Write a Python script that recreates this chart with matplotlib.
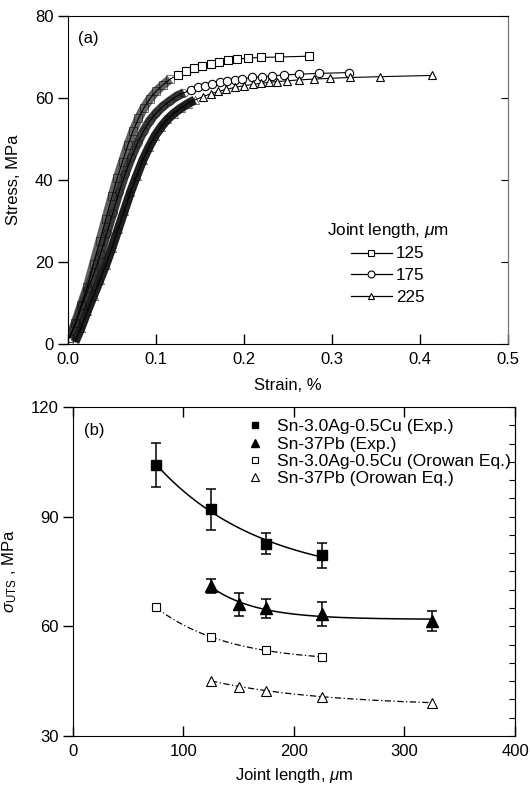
import numpy as np
import matplotlib
matplotlib.use("Agg")
import matplotlib.pyplot as plt
from matplotlib.lines import Line2D

plt.rcParams['font.family'] = ['Liberation Sans', 'DejaVu Sans']
plt.rcParams['mathtext.fontset'] = 'custom'
plt.rcParams['mathtext.rm'] = 'Liberation Sans'
plt.rcParams['mathtext.it'] = 'Liberation Sans:italic'
plt.rcParams['font.size'] = 12

# ---- (a) stress-strain curves, joint length 125 / 175 / 225 um
strain_125 = [0.0015, 0.008, 0.015, 0.022, 0.029, 0.036, 0.043, 0.050, 0.056, 0.062,
              0.068, 0.074, 0.080, 0.086, 0.093, 0.100, 0.108, 0.116, 0.125, 0.134,
              0.143, 0.152, 0.162, 0.172, 0.182, 0.192, 0.204, 0.219, 0.240, 0.274]
stress_125 = [1.5, 5.0, 9.5, 14.0, 19.5, 25.0, 30.5, 36.0, 40.5, 44.5,
              48.5, 52.0, 55.0, 57.5, 59.8, 61.6, 63.2, 64.6, 65.7, 66.6,
              67.3, 67.9, 68.4, 68.9, 69.3, 69.5, 69.7, 69.9, 70.0, 70.2]

strain_175 = [0.002, 0.009, 0.016, 0.023, 0.030, 0.037, 0.044, 0.051, 0.058, 0.065,
              0.072, 0.079, 0.086, 0.093, 0.100, 0.108, 0.116, 0.124, 0.132, 0.140,
              0.148, 0.156, 0.164, 0.173, 0.181, 0.190, 0.198, 0.209, 0.221, 0.232,
              0.245, 0.262, 0.285, 0.319]
stress_175 = [1.5, 5.0, 9.5, 13.5, 17.5, 22.0, 27.0, 32.0, 37.0, 41.5,
              45.5, 49.0, 52.0, 54.5, 56.3, 58.0, 59.3, 60.5, 61.3, 62.0,
              62.6, 63.0, 63.4, 63.8, 64.1, 64.4, 64.7, 65.0, 65.2, 65.4,
              65.6, 65.8, 66.0, 66.2]

strain_225 = [0.008, 0.015, 0.022, 0.029, 0.036, 0.043, 0.050, 0.057, 0.064, 0.071,
              0.078, 0.085, 0.092, 0.099, 0.106, 0.113, 0.120, 0.128, 0.136, 0.144,
              0.153, 0.162, 0.171, 0.180, 0.190, 0.200, 0.210, 0.219, 0.228, 0.238,
              0.249, 0.262, 0.279, 0.298, 0.321, 0.355, 0.414]
stress_225 = [0.5, 4.0, 8.0, 11.8, 15.5, 19.3, 23.5, 28.0, 32.5, 37.0,
              41.0, 44.8, 48.0, 50.8, 53.0, 54.8, 56.2, 57.5, 58.6, 59.5,
              60.3, 61.0, 61.6, 62.1, 62.6, 63.0, 63.3, 63.6, 63.8, 64.0,
              64.2, 64.4, 64.6, 64.8, 65.0, 65.2, 65.5]

# ---- (b) UTS vs joint length
jl_sac = [75, 125, 175, 225]
sac_exp = [104.2, 92.0, 82.6, 79.4]
sac_err = [6.0, 5.7, 2.8, 3.5]
sac_orowan = [65.2, 57.0, 53.5, 51.6]

jl_pb = [125, 150, 175, 225, 325]
pb_exp = [71.0, 66.0, 64.9, 63.3, 61.5]
pb_err = [1.9, 3.2, 2.5, 3.3, 2.7]
pb_orowan = [45.1, 43.5, 42.4, 40.8, 39.1]


def decay_fit(x, y):
    # y = a + b*exp(-x/t), t found by a simple scan
    x = np.asarray(x, float)
    y = np.asarray(y, float)
    best = None
    for t in np.linspace(10, 1500, 3000):
        A = np.column_stack([np.ones_like(x), np.exp(-x / t)])
        coef = np.linalg.lstsq(A, y, rcond=None)[0]
        err = np.sum((A @ coef - y) ** 2)
        if best is None or err < best[0]:
            best = (err, t, coef)
    xs = np.linspace(x.min(), x.max(), 200)
    return xs, best[2][0] + best[2][1] * np.exp(-xs / best[1])


fig = plt.figure(figsize=(5.3, 7.88), dpi=100)
ax1 = fig.add_axes([0.1283, 0.5635, 0.8302, 0.4162])
ax2 = fig.add_axes([0.1377, 0.0660, 0.8340, 0.4175])

curves = [
    (strain_125, stress_125, 's', '125', 0.12, '0.38'),
    (strain_175, stress_175, 'o', '175', 0.14, '0.22'),
    (strain_225, stress_225, '^', '225', 0.15, '0.12'),
]
handles = []
for sx, sy, m, lab, cut, bandc in curves:
    sx = np.array(sx)
    sy = np.array(sy)
    dense = sx < cut
    ax1.plot(sx[dense], sy[dense], color=bandc, lw=6.5, solid_capstyle='butt', zorder=2)
    ax1.plot(sx, sy, color='k', lw=0.8, zorder=3)
    ax1.plot(sx[dense], sy[dense], ls='none', marker=m, ms=5.5, mfc='none',
             mec='0.05', mew=0.4, zorder=4)
    ax1.plot(sx[~dense], sy[~dense], ls='none', marker=m, ms=6, mfc='white',
             mec='k', mew=0.8, zorder=4)
    handles.append(Line2D([], [], color='k', lw=0.9, marker=m, ms=5, mfc='white',
                          mec='k', mew=0.8, label=lab))

ax1.set_xlim(0, 0.5)
ax1.set_ylim(0, 80)
ax1.set_xticks([0.0, 0.1, 0.2, 0.3, 0.4, 0.5])
ax1.set_xticklabels(['0.0', '0.1', '0.2', '0.3', '0.4', '0.5'])
ax1.set_yticks([0, 20, 40, 60, 80])
ax1.set_xlabel('Strain, %', labelpad=8)
ax1.set_ylabel('Stress, MPa', labelpad=10)
ax1.tick_params(axis='x', direction='in', length=7, width=1, pad=6)
ax1.tick_params(axis='y', direction='out', length=7, width=1, left=True)
ax1.text(0.022, 0.955, '(a)', transform=ax1.transAxes, ha='left', va='top', fontsize=12)
leg = ax1.legend(handles=handles, title=r'Joint length, $\mu$m', loc='upper left',
                 bbox_to_anchor=(0.569, 0.402), frameon=False, borderpad=0,
                 handlelength=2.4, handletextpad=0.25, labelspacing=0.4,
                 fontsize=12.3, title_fontsize=12.3)
leg._legend_box.align = 'center'
# inward ticks on the right spine
ax1r = ax1.secondary_yaxis('right')
ax1r.set_yticks([0, 20, 40, 60, 80])
ax1r.tick_params(direction='in', length=5, labelright=False)
ax1r.spines['right'].set_color('0.45')
ax1.spines['right'].set_color('0.45')

# ---- (b)
xs, ys = decay_fit(jl_sac, sac_exp)
ax2.plot(xs, ys, color='k', lw=1.1)
xs, ys = decay_fit(jl_pb, pb_exp)
ax2.plot(xs, ys, color='k', lw=1.1)
xs, ys = decay_fit(jl_sac, sac_orowan)
ax2.plot(xs, ys, color='k', lw=0.9, dashes=(5, 2, 1, 2))
xs, ys = decay_fit(jl_pb, pb_orowan)
ax2.plot(xs, ys, color='k', lw=0.9, dashes=(5, 2, 1, 2))

ax2.errorbar(jl_sac, sac_exp, yerr=sac_err, fmt='none', ecolor='k', elinewidth=1.1,
             capsize=3.5, capthick=1.1)
ax2.errorbar(jl_pb, pb_exp, yerr=pb_err, fmt='none', ecolor='k', elinewidth=1.1,
             capsize=3.5, capthick=1.1)
h1, = ax2.plot(jl_sac, sac_exp, 's', color='k', ms=7, label='Sn-3.0Ag-0.5Cu (Exp.)', zorder=5)
h2, = ax2.plot(jl_pb, pb_exp, '^', color='k', ms=8, label='Sn-37Pb (Exp.)', zorder=5)
h3, = ax2.plot(jl_sac, sac_orowan, 's', mfc='white', mec='k', mew=0.8, ms=5.5,
               label='Sn-3.0Ag-0.5Cu (Orowan Eq.)', zorder=5)
h4, = ax2.plot(jl_pb, pb_orowan, '^', mfc='white', mec='k', mew=0.8, ms=6.5,
               label='Sn-37Pb (Orowan Eq.)', zorder=5)

leg_h = [Line2D([], [], ls='none', marker='s', color='k', ms=5),
         Line2D([], [], ls='none', marker='^', color='k', ms=6),
         Line2D([], [], ls='none', marker='s', mfc='white', mec='k', mew=0.8, ms=4.5),
         Line2D([], [], ls='none', marker='^', mfc='white', mec='k', mew=0.8, ms=5.5)]
ax2.legend(leg_h, [h1.get_label(), h2.get_label(), h3.get_label(), h4.get_label()],
           loc='upper left', bbox_to_anchor=(0.373, 0.99), frameon=False, borderpad=0,
           handlelength=1.0, handletextpad=0.75, labelspacing=0.12, fontsize=12.6)

ax2.set_xlim(0, 400)
ax2.set_ylim(30, 120)
ax2.set_xticks([0, 100, 200, 300, 400])
ax2.set_yticks([30, 60, 90, 120])
ax2.set_xlabel(r'Joint length, $\mu$m', labelpad=5)
ax2.set_ylabel(r'$\sigma_{\rm UTS}$ , MPa', labelpad=8)
ax2.tick_params(axis='x', direction='in', length=7, width=1, top=True, pad=6)
ax2.tick_params(axis='y', direction='out', length=7, width=1)
ax2.text(0.025, 0.95, '(b)', transform=ax2.transAxes, ha='left', va='top', fontsize=12)
ax2r = ax2.secondary_yaxis('right')
ax2r.set_yticks(np.arange(30, 121, 5))
ax2r.tick_params(direction='in', length=4, labelright=False)

fig.savefig('out.png', dpi=100)
